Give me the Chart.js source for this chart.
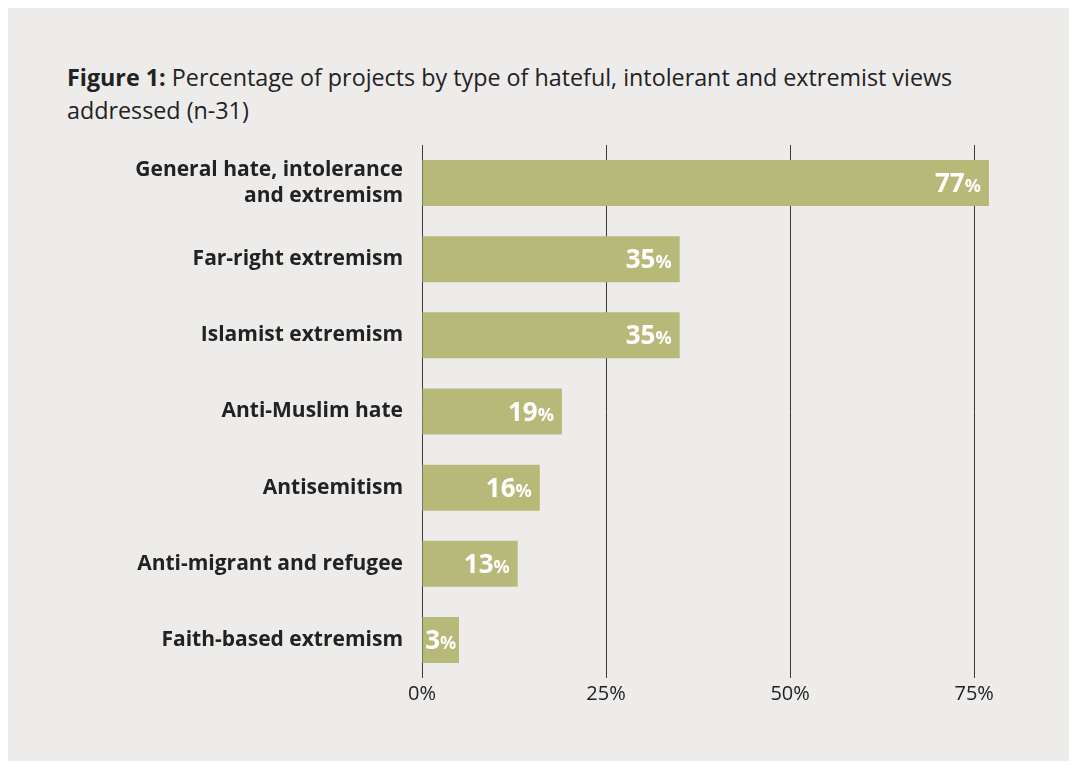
<!DOCTYPE html>
<html>
<head>
<meta charset="utf-8">
<script src="https://cdn.jsdelivr.net/npm/chart.js@4.4.1/dist/chart.umd.min.js"></script>
<style>
  html, body { margin: 0; padding: 0; background: #ffffff; }
  #panel {
    position: absolute; left: 8px; top: 8px; width: 1061px; height: 753px;
    background: #edeceb;
  }
  #title {
    position: absolute; left: 67px; top: 61px; width: 990px;
    font-family: 'Open Sans', sans-serif; font-size: 23.3px; line-height: 33px;
    color: #222222;
  }
  #title b { font-weight: 700; }
  #wrap { position: absolute; left: 0; top: 0; width: 1077px; height: 769px; }
</style>
</head>
<body>
<div id="panel"></div>
<div id="title"><b>Figure 1:</b> Percentage of projects by type of hateful, intolerant and extremist views<br>addressed (n-31)</div>
<div id="wrap"><canvas id="hatechart" width="1077" height="769"></canvas></div>
<script>
'use strict';

// categories and values
var categories = [
  ['General hate, intolerance', 'and extremism'],
  'Far-right extremism',
  'Islamist extremism',
  'Anti-Muslim hate',
  'Antisemitism',
  'Anti-migrant and refugee',
  'Faith-based extremism'
];
var percentages = [77, 35, 35, 19, 16, 13, 3];
var tickValues = [0, 25, 50, 75];

var barColour = '#b7b978';
var textColour = '#222222';

// white value labels inside the end of each bar, "%" a bit smaller
var valueLabels = {
  id: 'valueLabels',
  afterDatasetsDraw: function(chart) {
    var ctx = chart.ctx;
    var meta = chart.getDatasetMeta(0);
    ctx.save();
    ctx.fillStyle = '#ffffff';
    ctx.textBaseline = 'alphabetic';
    ctx.textAlign = 'left';
    for (var i = 0; i < meta.data.length; i++) {
      var bar = meta.data[i];
      var num = String(percentages[i]);
      ctx.font = 'bold 18px "Open Sans"';
      var pctW = ctx.measureText('%').width;
      ctx.font = 'bold 26px "Open Sans"';
      var numW = ctx.measureText(num).width;
      var total = numW + pctW;
      var barW = bar.x - bar.base;
      var left = bar.x - 8 - total;
      // short bar: center the label in it
      if (total + 10 > barW) left = bar.base + (barW - total) / 2;
      var baseY = bar.y + 9;
      ctx.fillText(num, left, baseY);
      ctx.font = 'bold 18px "Open Sans"';
      ctx.fillText('%', left + numW, baseY);
    }
    ctx.restore();
  }
};

var ctx = document.getElementById('hatechart').getContext('2d');
var chart = new Chart(ctx, {
  type: 'bar',
  data: {
    labels: categories,
    datasets: [{
      data: percentages,
      backgroundColor: barColour,
      borderWidth: 0,
      barPercentage: 0.604,
      categoryPercentage: 1,
      minBarLength: 37
    }]
  },
  options: {
    indexAxis: 'y',
    responsive: false,
    animation: false,
    layout: { padding: { left: 0, top: 145, right: 66, bottom: 31 } },
    plugins: {
      legend: { display: false },
      tooltip: { enabled: false }
    },
    scales: {
      x: {
        min: 0,
        max: 80,
        afterBuildTicks: function(scale) {
          scale.ticks = tickValues.map(function(v) { return { value: v }; });
        },
        afterFit: function(scale) { scale.height = 60; },
        grid: { color: '#3a3a3a', lineWidth: 1, drawTicks: false },
        border: { display: false },
        ticks: {
          padding: 4,
          color: textColour,
          font: { family: 'Open Sans', size: 20 },
          callback: function(v) { return v + '%'; }
        }
      },
      y: {
        afterFit: function(scale) { scale.width = 422; },
        grid: { display: false, drawTicks: false },
        border: { display: false },
        ticks: {
          padding: 19,
          color: textColour,
          font: { family: 'Open Sans', size: 21, weight: 'bold', lineHeight: 1.25 }
        }
      }
    }
  },
  plugins: [valueLabels]
});
</script>
</body>
</html>
